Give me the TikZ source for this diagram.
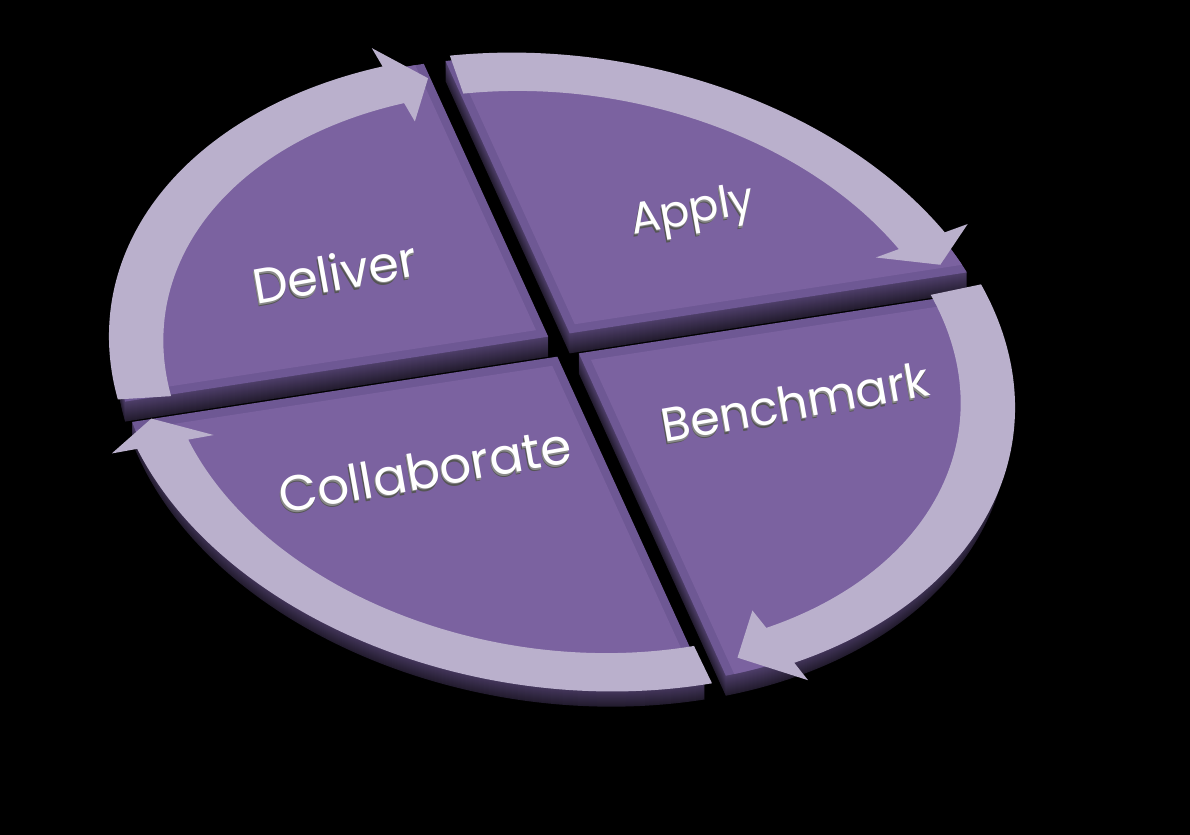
\documentclass[tikz,border=0pt]{standalone}
\usepackage{fontspec}
\setmainfont{Poppins}
\definecolor{facepurple}{HTML}{7B62A0}
\definecolor{bevelpurple}{HTML}{6E5894}
\definecolor{ringlilac}{HTML}{BAB0CC}
\definecolor{shadowgray}{HTML}{8A8A8A}
\definecolor{deepgray}{HTML}{555555}
\tikzset{
  disk/.style={cm={4.30,0.66,-1.425,3.125,(5.62,-3.72)}},
  lbl/.style={text=white, rotate=10, inner sep=0pt},
  lblshade/.style={text=shadowgray, rotate=10, inner sep=0pt},
  lbldeep/.style={text=deepgray, rotate=10, inner sep=0pt},
}
\begin{document}
\begin{tikzpicture}
	\useasboundingbox (0,0) rectangle (11.9,-8.35);
	\fill[black] (0,0) rectangle (11.9,-8.35);
	% sides of the four slabs
	\foreach \d in {20,19,...,1} {
		\pgfmathsetmacro\mix{72-2*\d}
		\foreach \xa/\ya/\xb/\yb in {0.055/0.112/1.2/1.2, -1.2/0.112/0.005/1.2, 0.055/-1.2/1.2/0.048, -1.2/-1.2/0.005/0.048} {
			\begin{scope}[yshift={-\d*0.01cm}, disk]
				\clip (\xa,\ya) rectangle (\xb,\yb);
				\fill[bevelpurple!\mix!black] (0,0) circle (0.985);
			\end{scope}
		}
	}
	% top faces
	\foreach \xa/\ya/\xb/\yb in {0.055/0.112/1.2/1.2, -1.2/0.112/0.005/1.2, 0.055/-1.2/1.2/0.048, -1.2/-1.2/0.005/0.048} {
		\begin{scope}[disk]
			\clip (\xa,\ya) rectangle (\xb,\yb);
			\fill[bevelpurple] (0,0) circle (0.985);
			\clip (\xa+0.02,\ya+0.025) rectangle (\xb-0.02,\yb-0.025);
			\fill[facepurple] (0,0) circle (0.985);
		\end{scope}
	}
	% ring arrows
	\begin{scope}[disk]
		\foreach \st/\ba/\ti in {173/95/90, 86/14/9, 4/-77.5/-84, 271/182/177}
			\fill[ringlilac] (\st:1) arc[start angle=\st, end angle=\ba, radius=1] -- (\ba:1.06) -- (\ti:0.94) -- (\ba:0.82) -- (\ba:0.88) arc[start angle=\ba, end angle=\st, radius=0.88] -- cycle;
	\end{scope}
	% labels
	\node[lbldeep, font=\fontsize{14}{16}\selectfont] (deliver-d) at (3.34,-2.75) {Deliver};
	\node[lblshade, font=\fontsize{14}{16}\selectfont] (deliver-s) at (3.345,-2.735) {Deliver};
	\node[lbl, font=\fontsize{14}{16}\selectfont] (deliver) at (3.35,-2.72) {Deliver};
	\node[lbldeep, font=\fontsize{12.5}{15}\selectfont] (apply-d) at (6.92,-2.16) {Apply};
	\node[lblshade, font=\fontsize{12.5}{15}\selectfont] (apply-s) at (6.925,-2.145) {Apply};
	\node[lbl, font=\fontsize{12.5}{15}\selectfont] (apply) at (6.93,-2.13) {Apply};
	\node[lbldeep, font=\fontsize{13.5}{16}\selectfont] (benchmark-d) at (7.94,-4.05) {Benchmark};
	\node[lblshade, font=\fontsize{13.5}{16}\selectfont] (benchmark-s) at (7.945,-4.035) {Benchmark};
	\node[lbl, font=\fontsize{13.5}{16}\selectfont] (benchmark) at (7.95,-4.02) {Benchmark};
	\node[lbldeep, font=\fontsize{14.2}{17}\selectfont] (collaborate-d) at (4.24,-4.73) {Collaborate};
	\node[lblshade, font=\fontsize{14.2}{17}\selectfont] (collaborate-s) at (4.245,-4.715) {Collaborate};
	\node[lbl, font=\fontsize{14.2}{17}\selectfont] (collaborate) at (4.25,-4.70) {Collaborate};
\end{tikzpicture}
\end{document}
